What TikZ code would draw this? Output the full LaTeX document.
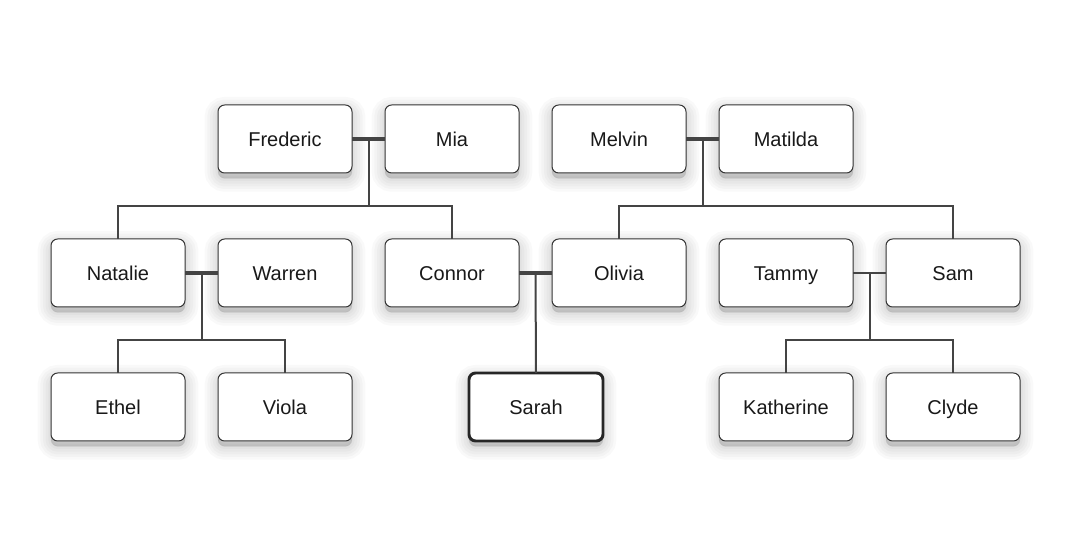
\documentclass[tikz,border=0pt]{standalone}
\usepackage{fontspec}
\setmainfont{Liberation Sans}
\usetikzlibrary{calc}
\definecolor{linec}{HTML}{444444}
\definecolor{boxc}{HTML}{333333}
\tikzset{
  shlayer/.style={preaction={fill=black, draw=black, opacity=0.022, line width=#1,
      transform canvas={yshift=-4pt}}},
  person/.style={draw=boxc, line width=0.75pt, fill=white, rounded corners=5pt,
    minimum width=100.5pt, minimum height=51pt, inner sep=0pt, outer sep=0pt,
    font=\fontsize{15}{18}\selectfont, text=black!90,
    text height=12pt, text depth=1pt,
    shlayer=20pt, shlayer=16pt, shlayer=12pt, shlayer=8pt, shlayer=4pt, shlayer=1pt},
  focus/.style={person, line width=2.2pt, draw=black!85},
  couple/.style={draw=linec, line width=3pt},
  link/.style={draw=linec, line width=1.5pt},
}
\begin{document}
\begin{tikzpicture}[x=0.75pt,y=-0.75pt]
\useasboundingbox[fill=white] (0,0) rectangle (1075,541);
% row 1
\node[person] (fred) at (285,139) {Frederic};
\node[person] (mia) at (452,139) {Mia};
\node[person] (melvin) at (619,139) {Melvin};
\node[person] (matilda) at (786,139) {Matilda};
% row 2
\node[person] (natalie) at (118,273) {Natalie};
\node[person] (warren) at (285,273) {Warren};
\node[person] (connor) at (452,273) {Connor};
\node[person] (olivia) at (619,273) {Olivia};
\node[person] (tammy) at (786,273) {Tammy};
\node[person] (sam) at (953,273) {Sam};
% row 3
\node[person] (ethel) at (118,407) {Ethel};
\node[person] (viola) at (285,407) {Viola};
\node[focus] (sarah) at (536,407) {Sarah};
\node[person] (katherine) at (786,407) {Katherine};
\node[person] (clyde) at (953,407) {Clyde};
% couple junctions
\coordinate (fm) at ($(fred.east)!0.5!(mia.west)$);
\coordinate (mm) at ($(melvin.east)!0.5!(matilda.west)$);
\coordinate (nw) at ($(natalie.east)!0.5!(warren.west)$);
\coordinate (co) at ($(connor.east)!0.5!(olivia.west)$);
\coordinate (ts) at ($(tammy.east)!0.5!(sam.west)$);
\coordinate (fmb) at (368.5,206);
\coordinate (mmb) at (702.5,206);
\coordinate (nwb) at (201.5,340);
\coordinate (tsb) at (869.5,340);
% lines
\draw[link] (fm) -- (fmb);
\draw[link] (natalie.north) |- (fmb) -| (connor.north);
\draw[link] (mm) -- (mmb);
\draw[link] (olivia.north) |- (mmb) -| (sam.north);
\draw[link] (nw) -- (nwb);
\draw[link] (ethel.north) |- (nwb) -| (viola.north);
\draw[link] (co) -- (sarah.north);
\draw[link] (ts) -- (tsb);
\draw[link] (katherine.north) |- (tsb) -| (clyde.north);
\draw[couple] (fred.east) -- (mia.west);
\draw[couple] (melvin.east) -- (matilda.west);
\draw[couple] (natalie.east) -- (warren.west);
\draw[couple] (connor.east) -- (olivia.west);
\draw[link] (tammy.east) -- (sam.west);
\end{tikzpicture}
\end{document}
